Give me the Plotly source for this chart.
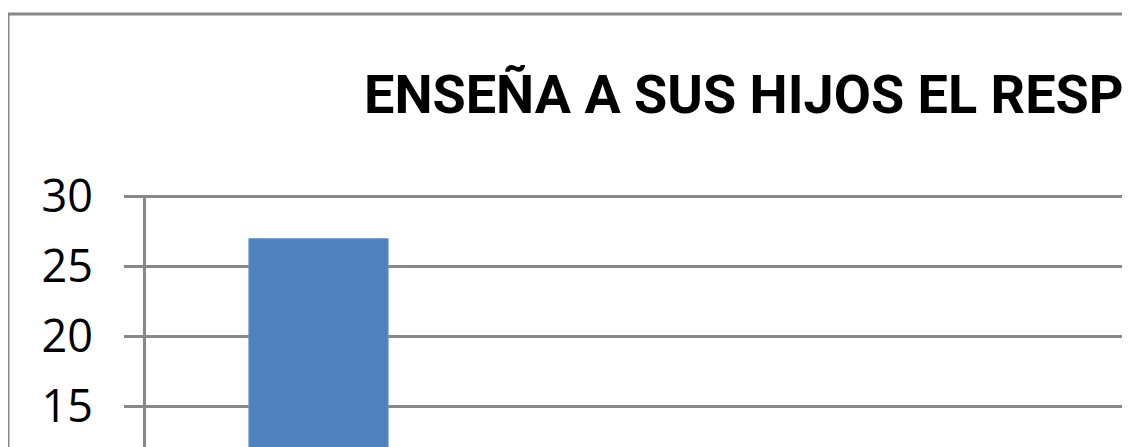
import plotly.graph_objects as go

# Data
categories = ["SI"]
values = [27]
y_ticks = [15, 20, 25, 30]
title_text = "ENSEÑA A SUS HIJOS EL RESP"

OFF = 8  # page body margin
W, H = 1130 - OFF, 447 - OFF
ML, MT = 138, 187
plot_w = W - ML
plot_h = H - MT
px_per_unit = 14.0
y30 = 196.7 - OFF
y_top = 30 + (y30 - MT) / px_per_unit
y_bot = 30 - (H - y30) / px_per_unit
cat_w = 348.0
x_lo = -(318.5 - OFF - ML) / cat_w
x_hi = x_lo + plot_w / cat_w

def px_x(px):
    return (px - OFF - ML) / plot_w

def px_y(py):
    return (H - (py - OFF)) / plot_h

GRAY = "#888888"

fig = go.Figure(go.Bar(
    x=categories, y=values,
    marker=dict(color="#4F81BD", line=dict(color="#6A95C8", width=1)),
))

fig.update_layout(
    width=W, height=H,
    margin=dict(l=ML, r=0, t=MT, b=0, pad=0),
    paper_bgcolor="white", plot_bgcolor="white",
    bargap=0.6,
    showlegend=False,
    xaxis=dict(type="category", range=[x_lo, x_hi], showticklabels=False,
               showgrid=False, zeroline=False, showline=False, ticks=""),
    yaxis=dict(range=[y_bot, y_top], tickvals=y_ticks, ticktext=[str(v) for v in y_ticks],
               showgrid=True, gridcolor=GRAY, gridwidth=3,
               showline=True, linecolor=GRAY, linewidth=3,
               ticks="outside", ticklen=19, tickwidth=3, tickcolor=GRAY,
               zeroline=False, ticklabelstandoff=22,
               tickfont=dict(family="Open Sans", size=45, color="black")),
    annotations=[dict(
        text=f"<b>{title_text}</b>", xref="paper", yref="paper",
        x=px_x(362), y=px_y(94), xanchor="left", yanchor="middle",
        showarrow=False,
        font=dict(family="Roboto", size=54, color="black"),
    )],
    shapes=[
        dict(type="line", xref="paper", yref="paper", x0=px_x(8), y0=px_y(14), x1=px_x(1140), y1=px_y(14),
             line=dict(color=GRAY, width=3)),
        dict(type="line", xref="paper", yref="paper", x0=px_x(8), y0=px_y(14), x1=px_x(8), y1=px_y(460),
             line=dict(color=GRAY, width=3)),
    ],
)

fig.write_html("out.html")
